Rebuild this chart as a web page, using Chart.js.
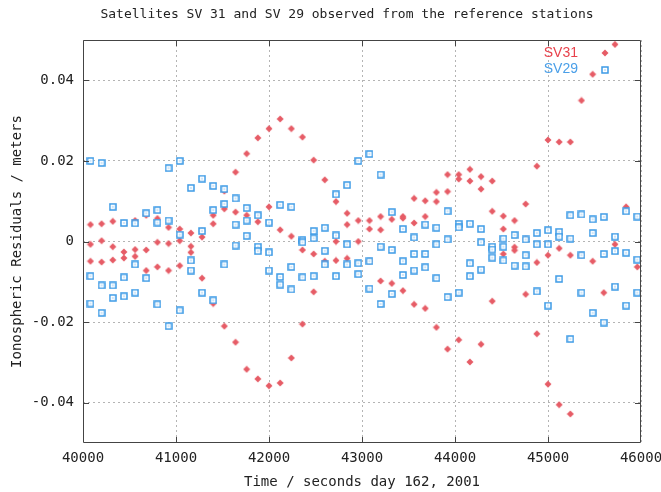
<!DOCTYPE html>
<html>
<head>
<meta charset="utf-8">
<script src="https://cdn.jsdelivr.net/npm/chart.js@4.4.1/dist/chart.umd.min.js"></script>
<style>
  html, body { margin: 0; padding: 0; background: #fff; }
  #wrap { width: 661px; height: 492px; }
</style>
</head>
<body>
<div id="wrap"><canvas id="residuals" width="661" height="492"></canvas></div>
<script>
// observation epochs (seconds of day 162)
const times = [
  40080, 40200, 40320, 40440, 40560, 40680, 40800, 40920, 41040, 41160,
  41280, 41400, 41520, 41640, 41760, 41880, 42000, 42120, 42240, 42360,
  42480, 42600, 42720, 42840, 42960, 43080, 43200, 43320, 43440, 43560,
  43680, 43800, 43920, 44040, 44160, 44280, 44400, 44520, 44640, 44760,
  44880, 45000, 45120, 45240, 45360, 45480, 45600, 45720, 45840, 45960
];

// residuals per epoch, one entry per reference station seen
const sv31 = [
  [0.0042, -0.0007, -0.0049], [0.0044, 0.0002, -0.0051], [0.0050, -0.0013, -0.0046],
  [0.0046, -0.0026, -0.0041], [0.0052, -0.0020, -0.0037], [0.0065, -0.0021, -0.0072],
  [0.0057, -0.0002, -0.0063], [0.0035, -0.0005, -0.0072], [0.0031, 0.0002, -0.0060],
  [0.0021, -0.0012, -0.0027], [0.0026, 0.0011, -0.0091], [0.0065, 0.0044, -0.0154],
  [0.0125, 0.0081, -0.0210], [0.0172, 0.0073, -0.0250], [0.0218, 0.0065, -0.0317],
  [0.0257, 0.0049, -0.0341], [0.0280, 0.0086, -0.0358], [0.0304, 0.0029, -0.0351],
  [0.0280, 0.0013, -0.0289], [0.0259, -0.0021, -0.0205], [0.0202, -0.0031, -0.0125],
  [0.0153, -0.0049], [0.0099, 0.0000, -0.0047], [0.0070, 0.0042, -0.0042],
  [0.0052, 0.0000], [0.0052, 0.0031, -0.0049], [0.0062, 0.0029, -0.0098],
  [0.0055, -0.0104], [0.0062, 0.0058, -0.0122], [0.0107, 0.0046, -0.0156],
  [0.0101, 0.0062, -0.0166], [0.0122, 0.0099, -0.0213], [0.0166, 0.0124, -0.0267],
  [0.0166, 0.0155, -0.0244], [0.0179, 0.0150, -0.0299], [0.0161, 0.0130, -0.0255],
  [0.0150, 0.0075, -0.0148], [0.0063, 0.0031, -0.0031], [0.0052, -0.0014, -0.0022],
  [0.0093, 0.0006, -0.0131], [0.0187, -0.0052, -0.0229], [0.0252, -0.0034, -0.0354],
  [0.0247, -0.0017, -0.0405], [0.0247, -0.0034, -0.0428], [0.0350, -0.0034],
  [0.0415, -0.0049], [-0.0127], [0.0489, -0.0007], [0.0086], [-0.0063]
];

const sv29 = [
  [0.0200, -0.0086, -0.0154], [0.0195, -0.0109, -0.0177], [0.0086, -0.0109, -0.0140],
  [0.0046, -0.0089, -0.0136], [0.0045, -0.0057, -0.0127], [0.0070, -0.0091],
  [0.0078, 0.0047, -0.0156], [0.0182, 0.0052, -0.0210], [0.0200, 0.0017, -0.0171],
  [0.0133, -0.0047, -0.0072], [0.0156, 0.0026, -0.0127], [0.0138, 0.0078, -0.0146],
  [0.0130, 0.0093, -0.0057], [0.0107, 0.0042, -0.0010], [0.0083, 0.0052, 0.0014],
  [0.0065, -0.0013, -0.0024], [0.0047, -0.0027, -0.0072], [0.0091, -0.0088, -0.0107],
  [0.0086, -0.0063, -0.0119], [0.0004, -0.0002, -0.0089], [0.0026, 0.0008, -0.0086],
  [0.0034, -0.0023, -0.0057], [0.0117, 0.0015, -0.0086], [0.0140, -0.0007, -0.0057],
  [0.0200, -0.0054, -0.0081], [0.0217, -0.0049, -0.0117], [0.0166, -0.0013, -0.0155],
  [0.0073, -0.0021, -0.0130], [0.0031, -0.0049, -0.0083], [0.0010, -0.0031, -0.0072],
  [0.0042, -0.0031, -0.0064], [0.0034, -0.0007, -0.0091], [0.0075, 0.0005, -0.0138],
  [0.0044, 0.0035, -0.0127], [0.0044, -0.0054, -0.0086], [0.0031, -0.0002, -0.0070],
  [-0.0013, -0.0020, -0.0040], [0.0007, -0.0013, -0.0047], [0.0016, -0.0060],
  [0.0005, -0.0034, -0.0062], [0.0021, -0.0007, -0.0124], [0.0028, -0.0007, -0.0159],
  [0.0024, 0.0012, -0.0093], [0.0065, 0.0007, -0.0242], [0.0067, -0.0034, -0.0127],
  [0.0055, 0.0021, -0.0177], [0.0061, -0.0031, -0.0201], [0.0012, -0.0024, -0.0112],
  [0.0075, -0.0028, -0.0159], [0.0062, -0.0045, -0.0127]
];

const xTicks = [40000, 41000, 42000, 43000, 44000, 45000, 46000];
const yTicks = [-0.04, -0.02, 0, 0.02, 0.04];

const chartTitle = 'Satellites SV 31 and SV 29 observed from the reference stations';

const RED = '#e65c66';
const BLUE = '#3c9ae6';
const TEXT = '#222';
const MONO = { family: '"DejaVu Sans Mono", monospace', size: 14 };

// gnuplot-like point glyphs
const makeDiamond = (color) => {
  const c = document.createElement('canvas');
  c.width = 8; c.height = 8;
  const g = c.getContext('2d');
  g.fillStyle = color;
  g.beginPath();
  g.moveTo(4, 0.5); g.lineTo(7.5, 4); g.lineTo(4, 7.5); g.lineTo(0.5, 4);
  g.closePath();
  g.fill();
  return c;
};

const makeSquare = (color) => {
  const c = document.createElement('canvas');
  c.width = 8; c.height = 8;
  const g = c.getContext('2d');
  g.fillStyle = '#fff';
  g.fillRect(1, 1, 6, 6);
  g.strokeStyle = color;
  g.lineWidth = 1.5;
  g.strokeRect(1, 1, 6, 6);
  g.fillStyle = color;
  g.fillRect(3.5, 3.5, 1, 1);
  return c;
};

const toPoints = (series) => times.flatMap((t, i) => series[i].map(v => ({ x: t, y: v })));

// frame with inward tick marks, gnuplot style
const framePlugin = {
  id: 'frame',
  afterDraw(chart) {
    const { ctx, chartArea: a, scales } = chart;
    ctx.save();
    ctx.strokeStyle = '#444';
    ctx.lineWidth = 1;
    ctx.beginPath();
    ctx.rect(a.left + 0.5, a.top + 0.5, a.width - 1, a.height - 1);
    xTicks.slice(1, -1).forEach(v => {
      const x = Math.round(scales.x.getPixelForValue(v)) + 0.5;
      ctx.moveTo(x, a.bottom); ctx.lineTo(x, a.bottom - 6);
      ctx.moveTo(x, a.top); ctx.lineTo(x, a.top + 6);
    });
    yTicks.forEach(v => {
      const y = Math.round(scales.y.getPixelForValue(v)) + 0.5;
      ctx.moveTo(a.left, y); ctx.lineTo(a.left + 6, y);
      ctx.moveTo(a.right, y); ctx.lineTo(a.right - 6, y);
    });
    ctx.stroke();
    ctx.restore();
  }
};

// title sits a bit left of the plot centre, like the gnuplot original
const titlePlugin = {
  id: 'topTitle',
  afterDraw(chart) {
    const ctx = chart.ctx;
    ctx.save();
    ctx.font = '13px "DejaVu Sans Mono", monospace';
    ctx.fillStyle = TEXT;
    ctx.textAlign = 'center';
    ctx.textBaseline = 'middle';
    ctx.fillText(chartTitle, 347, 15);
    ctx.restore();
  }
};

// key in the top right corner: title then sample
const keyPlugin = {
  id: 'cornerKey',
  afterDatasetsDraw(chart) {
    const { ctx, chartArea: a } = chart;
    ctx.save();
    ctx.font = '14px "Liberation Sans", sans-serif';
    ctx.textAlign = 'right';
    ctx.textBaseline = 'middle';
    chart.data.datasets.forEach((ds, i) => {
      const y = a.top + 13 + i * 16.5;
      ctx.fillStyle = ds.keyColor;
      ctx.fillText(ds.label, a.right - 63, y);
      const img = ds.pointStyle;
      ctx.drawImage(img, a.right - 36 - img.width / 2, Math.round(y) - img.height / 2);
    });
    ctx.restore();
  }
};

const axisBase = {
  type: 'linear',
  grid: { color: '#b4b4b4', lineWidth: 1, drawTicks: false },
  border: { display: false, dash: [2, 3] }
};

new Chart(document.getElementById('residuals'), {
  type: 'scatter',
  data: {
    datasets: [
      {
        label: 'SV31',
        data: toPoints(sv31),
        pointStyle: makeDiamond(RED),
        keyColor: '#e8424c',
        order: 1
      },
      {
        label: 'SV29',
        data: toPoints(sv29),
        pointStyle: makeSquare(BLUE),
        keyColor: '#4a9fe8',
        order: 0
      }
    ]
  },
  options: {
    responsive: false,
    animation: false,
    devicePixelRatio: 1,
    layout: { padding: { left: 0, right: 20, top: 40, bottom: 0 } },
    plugins: {
      legend: { display: false },
      tooltip: { enabled: false },
      title: { display: false }
    },
    scales: {
      x: {
        ...axisBase,
        position: 'bottom',
        min: 40000,
        max: 46000,
        afterBuildTicks: s => { s.ticks = xTicks.map(v => ({ value: v })); },
        afterFit: s => { s.height = 49; s.paddingLeft = 0; s.paddingRight = 0; },
        ticks: { font: MONO, color: TEXT, padding: 7, maxRotation: 0, callback: v => String(v) },
        title: {
          display: true,
          text: 'Time / seconds day 162, 2001',
          font: MONO,
          color: TEXT,
          padding: { top: 0, bottom: 1.6 }
        }
      },
      y: {
        ...axisBase,
        position: 'left',
        min: -0.05,
        max: 0.05,
        afterBuildTicks: s => { s.ticks = yTicks.map(v => ({ value: v })); },
        afterFit: s => { s.width = 83; s.paddingTop = 0; s.paddingBottom = 0; },
        ticks: { font: MONO, color: TEXT, padding: 9, callback: v => String(+v.toFixed(2)) },
        title: {
          display: true,
          text: 'Ionospheric Residuals / meters',
          font: MONO,
          color: TEXT,
          padding: { top: 8.6, bottom: 0 }
        }
      }
    }
  },
  plugins: [framePlugin, titlePlugin, keyPlugin]
});
</script>
</body>
</html>
